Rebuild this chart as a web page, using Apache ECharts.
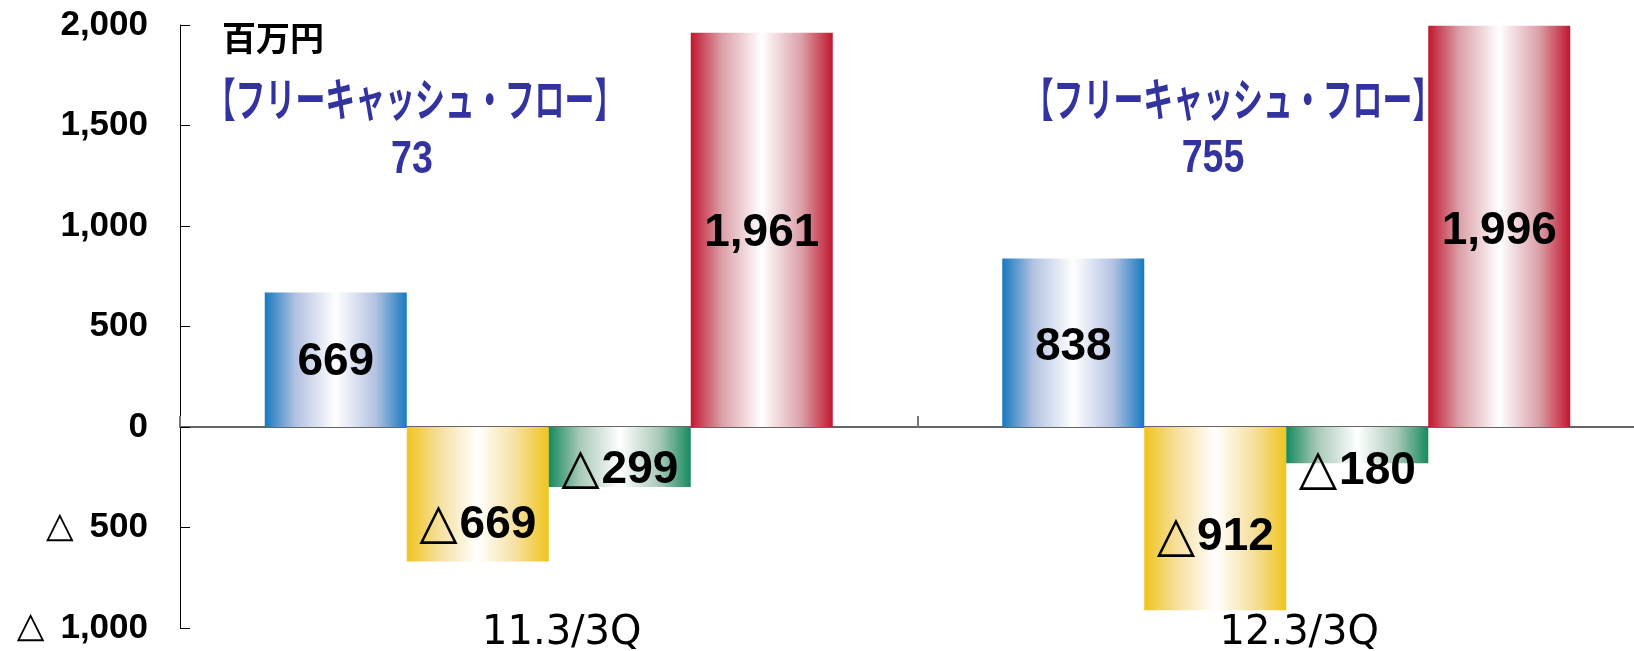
<!DOCTYPE html>
<html>
<head>
<meta charset="utf-8">
<script src="https://cdn.jsdelivr.net/npm/echarts@6/dist/echarts.min.js"></script>
<style>
html,body{margin:0;padding:0;background:#fff;}
#chart{width:1634px;height:651px;}
</style>
</head>
<body>
<div id="chart"></div>
<script>
// ---- data ----
const categories = ['11.3/3Q', '12.3/3Q'];
const operatingCF = [669, 838];
const investingCF = [-669, -912];
const financingCF = [-299, -180];
const cashBalance = [1961, 1996];
const freeCF = [73, 755];
const unitLabel = '百万円';
const fcfTitle = '【フリーキャッシュ・フロー】';

// ---- styles (label vertical nudges, px) ----
const offOperating = [3, 5];
const offInvesting = [31, 19];
const offFinancing = [13, 26];
const offCash = [3, 5];

function fmt(v) {
  const s = Math.abs(v).toLocaleString('en-US');
  return v < 0 ? '{t|△}{n|' + s + '}' : '{n|' + s + '}';
}
function grad(edge, mid) {
  return {
    type: 'linear', x: 0, y: 0, x2: 1, y2: 0,
    colorStops: [
      { offset: 0, color: edge },
      { offset: 0.22, color: mid },
      { offset: 0.5, color: '#ffffff' },
      { offset: 0.78, color: mid },
      { offset: 1, color: edge }
    ]
  };
}
function mk(name, vals, offs, edge, mid) {
  return {
    name: name,
    type: 'bar',
    barWidth: 142,
    barGap: '0%',
    itemStyle: { color: grad(edge, mid) },
    label: {
      show: true,
      position: 'inside',
      formatter: p => fmt(p.value),
      color: '#000',
      rich: {
        n: { fontFamily: '"Liberation Sans", Arial, sans-serif', fontWeight: 'bold', fontSize: 46, color: '#000' },
        t: { fontFamily: '"DejaVu Sans", sans-serif', fontWeight: 'bold', fontSize: 50, color: '#000', padding: [0, 2, 0, 0] }
      }
    },
    data: vals.map((v, i) => ({ value: v, label: { offset: [0, offs[i]] } }))
  };
}

const chart = echarts.init(document.getElementById('chart'));
chart.setOption({
  animation: false,
  backgroundColor: '#ffffff',
  grid: { left: 180, top: 25, width: 1475, height: 603, containLabel: false, outerBoundsMode: 'none' },
  xAxis: [
    {
      type: 'category',
      data: categories,
      axisLine: { onZero: true, lineStyle: { color: '#333', width: 1.5 } },
      axisTick: { show: true, inside: true, length: 11, lineStyle: { color: '#777', width: 2 } },
      axisLabel: { show: false },
      splitLine: { show: false }
    },
    {
      type: 'category',
      data: categories,
      position: 'bottom',
      axisLine: { show: false },
      axisTick: { show: false },
      splitLine: { show: false },
      axisLabel: {
        show: true,
        margin: 6,
        verticalAlign: 'middle',
        color: '#000',
        fontFamily: '"DejaVu Sans", sans-serif',
        fontSize: 40,
        padding: [0, 0, 0, 26]
      }
    }
  ],
  yAxis: {
    type: 'value',
    min: -1000,
    max: 2000,
    interval: 500,
    axisLine: { show: true, lineStyle: { color: '#000', width: 1 } },
    axisTick: { show: true, inside: true, length: 10, lineStyle: { color: '#000' } },
    splitLine: { show: false },
    axisLabel: {
      margin: 32,
      color: '#000',
      formatter: v => (v < 0 ? '{t|△}{n|' + Math.abs(v).toLocaleString('en-US') + '}' : '{n|' + v.toLocaleString('en-US') + '}'),
      rich: {
        n: { fontFamily: '"Liberation Sans", Arial, sans-serif', fontWeight: 'bold', fontSize: 35, color: '#000' },
        t: { fontFamily: '"DejaVu Sans", sans-serif', fontWeight: 'bold', fontSize: 36, color: '#000', padding: [0, 16, 0, 0] }
      }
    }
  },
  series: [
    mk('営業CF', operatingCF, offOperating, '#1679C0', '#B4C2E2'),
    mk('投資CF', investingCF, offInvesting, '#EFC51C', '#F6DE9A'),
    mk('財務CF', financingCF, offFinancing, '#168A5E', '#A9C9B8'),
    mk('現金残高', cashBalance, offCash, '#C0172F', '#DBA0A8')
  ],
  graphic: [
    { type: 'text', x: 222, y: 38, style: { text: unitLabel, fill: '#000', fontFamily: '"Noto Sans CJK JP", sans-serif', fontWeight: 'bold', fontSize: 34, align: 'left', verticalAlign: 'middle' } },
    { type: 'text', x: 415, y: 99, scaleX: 0.65, style: { text: fcfTitle, fill: '#3333A0', fontFamily: '"Noto Sans CJK JP", sans-serif', fontWeight: 'bold', fontSize: 46, align: 'center', verticalAlign: 'middle' } },
    { type: 'text', x: 412, y: 160, scaleX: 0.8, style: { text: freeCF[0].toLocaleString('en-US'), fill: '#3333A0', fontFamily: '"Liberation Sans", Arial, sans-serif', fontWeight: 'bold', fontSize: 47, align: 'center', verticalAlign: 'middle' } },
    { type: 'text', x: 1233, y: 99, scaleX: 0.65, style: { text: fcfTitle, fill: '#3333A0', fontFamily: '"Noto Sans CJK JP", sans-serif', fontWeight: 'bold', fontSize: 46, align: 'center', verticalAlign: 'middle' } },
    { type: 'text', x: 1213, y: 159, scaleX: 0.8, style: { text: freeCF[1].toLocaleString('en-US'), fill: '#3333A0', fontFamily: '"Liberation Sans", Arial, sans-serif', fontWeight: 'bold', fontSize: 47, align: 'center', verticalAlign: 'middle' } }
  ]
});
</script>
</body>
</html>
